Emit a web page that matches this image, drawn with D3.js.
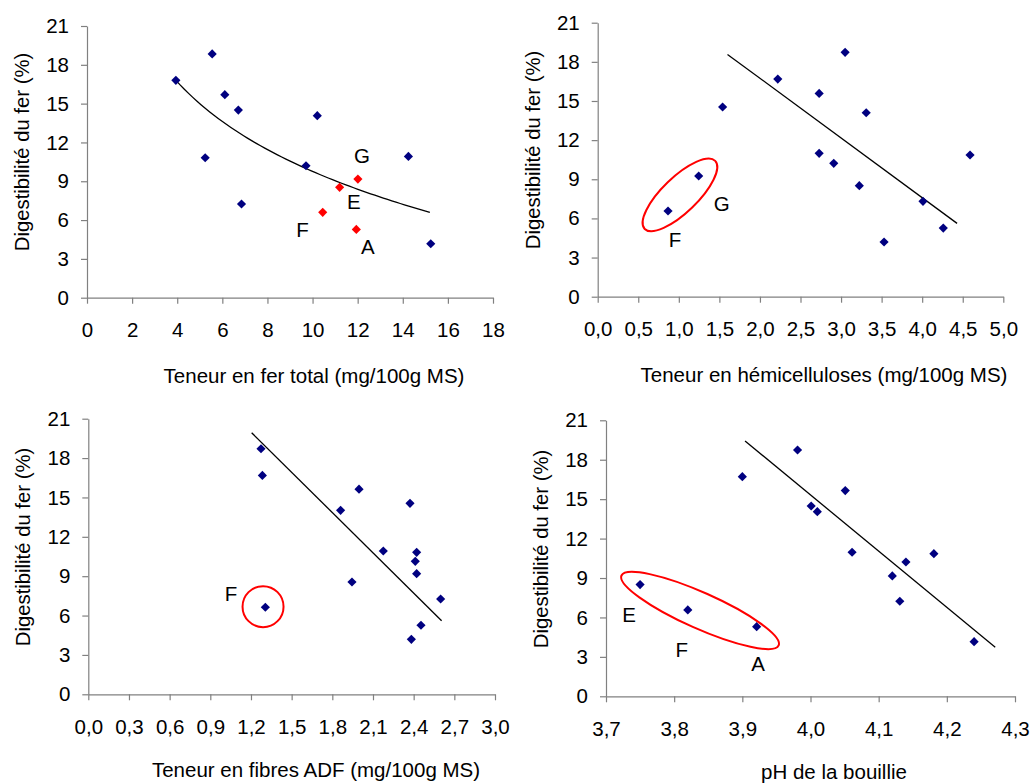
<!DOCTYPE html>
<html><head><meta charset="utf-8">
<script src="https://cdn.jsdelivr.net/npm/d3@7/dist/d3.min.js"></script>
<style>
html,body{margin:0;padding:0;background:#fff;}
svg{display:block;font-family:"Liberation Sans",Arial,sans-serif;}
</style></head>
<body>
<svg id="c" width="1031" height="784"></svg>
<script>
// ---------- DATA ----------
const yTickValues = [0, 3, 6, 9, 12, 15, 18, 21];
const yTitle = "Digestibilité du fer (%)";

// Panel 1 : fer total
const ferX = [3.94, 5.55, 6.11, 6.71, 5.24, 6.85, 10.21, 9.71, 14.25, 15.24];
const ferY = [16.8, 18.84, 15.69, 14.5, 10.82, 7.24, 14.07, 10.2, 10.92, 4.17];
const ferRedX = [12.01, 11.2, 10.45, 11.94];
const ferRedY = [9.17, 8.53, 6.6, 5.28];
const ferTicks = [0, 2, 4, 6, 8, 10, 12, 14, 16, 18];
const ferTrendLog = [27.16, -7.556];      // y = a + b ln(x)
const ferTrendRange = [3.94, 15.2];
const ferLabels = ["G", "E", "F", "A"];
const ferLabelX = [12.19, 11.83, 9.56, 12.45];
const ferLabelY = [11.0, 7.4, 5.28, 3.94];

// Panel 2 : hémicelluloses
const hemiX = [0.867, 1.245, 1.54, 2.22, 2.73, 3.05, 3.31, 2.73, 2.91, 3.225, 3.53, 4.01, 4.26, 4.59];
const hemiY = [6.57, 9.25, 14.54, 16.68, 15.58, 18.73, 14.1, 10.99, 10.22, 8.51, 4.19, 7.31, 5.26, 10.86];
const hemiTicks = [0, 0.5, 1, 1.5, 2, 2.5, 3, 3.5, 4, 4.5, 5];
const hemiTrendX = [1.60, 4.43];
const hemiTrendY = [18.57, 5.62];
const hemiLabels = ["G", "F"];
const hemiLabelX = [1.53, 0.953];
const hemiLabelY = [7.1, 4.39];
const hemiEllipse = [1.014, 7.8];

// Panel 3 : fibres ADF
const adfX = [1.274, 1.284, 1.306, 1.861, 1.997, 1.945, 2.176, 2.373, 2.422, 2.412, 2.422, 2.599, 2.454, 2.383];
const adfY = [18.71, 16.68, 6.63, 14.02, 15.63, 8.56, 10.92, 14.55, 10.82, 10.13, 9.19, 7.26, 5.26, 4.19];
const adfTicks = [0, 0.3, 0.6, 0.9, 1.2, 1.5, 1.8, 2.1, 2.4, 2.7, 3.0];
const adfTrendX = [1.205, 2.606];
const adfTrendY = [19.93, 5.61];
const adfLabels = ["F"];
const adfLabelX = [1.052];
const adfLabelY = [7.64];
const adfCircle = [1.289, 6.68];

// Panel 4 : pH
const phX = [3.75, 3.82, 3.921, 3.90, 3.981, 4.001, 4.01, 4.051, 4.061, 4.12, 4.131, 4.14, 4.181, 4.24];
const phY = [8.50, 6.57, 5.30, 16.71, 18.74, 14.48, 14.05, 15.65, 10.96, 9.16, 7.23, 10.22, 10.85, 4.16];
const phTicks = [3.7, 3.8, 3.9, 4.0, 4.1, 4.2, 4.3];
const phTrendX = [3.904, 4.271];
const phTrendY = [19.43, 3.73];
const phLabels = ["E", "F", "A"];
const phLabelX = [3.734, 3.811, 3.923];
const phLabelY = [6.21, 3.55, 2.49];
const phEllipse = [3.838, 6.53];

// ---------- LAYOUT ----------
const BLUE = "#000080", RED = "#ff0000", AXIS = "#808080";
const FONT = '"Liberation Sans",Arial,sans-serif';
const fmt1 = v => d3.format(".1f")(v).replace(".", ",");
const panels = [
  {box:{l:87,r:493,t:26,b:297.7}, xDomain:[0,18], xTicks:ferTicks, xFmt:d3.format("d"),
   xTitle:"Teneur en fer total (mg/100g MS)", xTitlePos:[314,383], yTitlePos:[29,152],
   pts:[{x:ferX,y:ferY,c:BLUE},{x:ferRedX,y:ferRedY,c:RED}],
   labels:{t:ferLabels,x:ferLabelX,y:ferLabelY}, trend:"log"},
  {box:{l:597.7,r:1003.3,t:22.7,b:296.7}, xDomain:[0,5], xTicks:hemiTicks, xFmt:fmt1,
   xTitle:"Teneur en hémicelluloses (mg/100g MS)", xTitlePos:[824,382], yTitlePos:[540,150],
   pts:[{x:hemiX,y:hemiY,c:BLUE}],
   labels:{t:hemiLabels,x:hemiLabelX,y:hemiLabelY}, trendX:hemiTrendX, trendY:hemiTrendY,
   ellipse:{c:hemiEllipse, rx:49, ry:17.6, rot:-44}},
  {box:{l:88.3,r:495,t:418.7,b:694.3}, xDomain:[0,3], xTicks:adfTicks, xFmt:fmt1,
   xTitle:"Teneur en fibres ADF (mg/100g MS)", xTitlePos:[316,777], yTitlePos:[30,547],
   pts:[{x:adfX,y:adfY,c:BLUE}],
   labels:{t:adfLabels,x:adfLabelX,y:adfLabelY}, trendX:adfTrendX, trendY:adfTrendY,
   ellipse:{c:adfCircle, rx:20.5, ry:20.5, rot:0}},
  {box:{l:606,r:1015,t:420.3,b:696.3}, xDomain:[3.7,4.3], xTicks:phTicks, xFmt:fmt1,
   xTitle:"pH de la bouillie", xTitlePos:[834,779], yTitlePos:[548,549],
   pts:[{x:phX,y:phY,c:BLUE}],
   labels:{t:phLabels,x:phLabelX,y:phLabelY}, trendX:phTrendX, trendY:phTrendY,
   ellipse:{c:phEllipse, rx:86, ry:18, rot:24}}
];

const svg = d3.select("#c");
const diamond = d3.symbol().type(d3.symbolSquare).size(42);

panels.forEach(p => {
  const x = d3.scaleLinear().domain(p.xDomain).range([p.box.l, p.box.r]);
  const y = d3.scaleLinear().domain([0,21]).range([p.box.b, p.box.t]);
  const g = svg.append("g");

  // axes
  const ya = g.append("g").attr("transform", `translate(${p.box.l},0)`)
    .call(d3.axisLeft(y).tickValues(yTickValues).tickSize(6).tickSizeOuter(0).tickPadding(12));
  const xa = g.append("g").attr("transform", `translate(0,${p.box.b})`)
    .call(d3.axisBottom(x).tickValues(p.xTicks).tickFormat(p.xFmt).tickSize(6).tickSizeOuter(0).tickPadding(19));
  [ya, xa].forEach(a => {
    a.select(".domain").attr("stroke", AXIS).attr("stroke-width", 1.2);
    a.selectAll(".tick line").attr("stroke", AXIS).attr("stroke-width", 1.2);
    a.selectAll(".tick text").attr("fill", "#000").style("font-size", "20.5px")
      .style("font-family", FONT);
  });

  // titles
  g.append("text").attr("x", p.xTitlePos[0]).attr("y", p.xTitlePos[1])
    .attr("text-anchor","middle").style("font-size","20.5px").text(p.xTitle);
  g.append("text").attr("transform", `translate(${p.yTitlePos[0]},${p.yTitlePos[1]}) rotate(-90)`)
    .attr("text-anchor","middle").style("font-size","20.3px").text(yTitle);

  // trend
  if (p.trend === "log") {
    const xs = d3.range(ferTrendRange[0], ferTrendRange[1] + 0.001, (ferTrendRange[1]-ferTrendRange[0])/60);
    g.append("path").datum(xs)
      .attr("d", d3.line().x(d => x(d)).y(d => y(ferTrendLog[0] + ferTrendLog[1]*Math.log(d))))
      .attr("fill","none").attr("stroke","#000").attr("stroke-width",1.3);
  } else {
    g.append("line").attr("x1", x(p.trendX[0])).attr("y1", y(p.trendY[0]))
      .attr("x2", x(p.trendX[1])).attr("y2", y(p.trendY[1]))
      .attr("stroke","#000").attr("stroke-width",1.3);
  }

  // points
  p.pts.forEach(s => {
    g.append("g").selectAll("path").data(s.x.map((v,i)=>[v, s.y[i]])).join("path")
      .attr("d", diamond)
      .attr("transform", d => `translate(${x(d[0])},${y(d[1])}) rotate(45)`)
      .attr("fill", s.c);
  });

  // ellipse
  if (p.ellipse) {
    g.append("ellipse")
      .attr("transform", `translate(${x(p.ellipse.c[0])},${y(p.ellipse.c[1])}) rotate(${p.ellipse.rot})`)
      .attr("rx", p.ellipse.rx).attr("ry", p.ellipse.ry)
      .attr("fill","none").attr("stroke", RED).attr("stroke-width", 2);
  }

  // labels
  g.append("g").selectAll("text").data(p.labels.t.map((t,i)=>[t, p.labels.x[i], p.labels.y[i]])).join("text")
    .attr("x", d => x(d[1])).attr("y", d => y(d[2]))
    .attr("text-anchor","middle").attr("dy","0.36em")
    .style("font-size","20.5px").text(d => d[0]);
});
</script>
</body></html>
